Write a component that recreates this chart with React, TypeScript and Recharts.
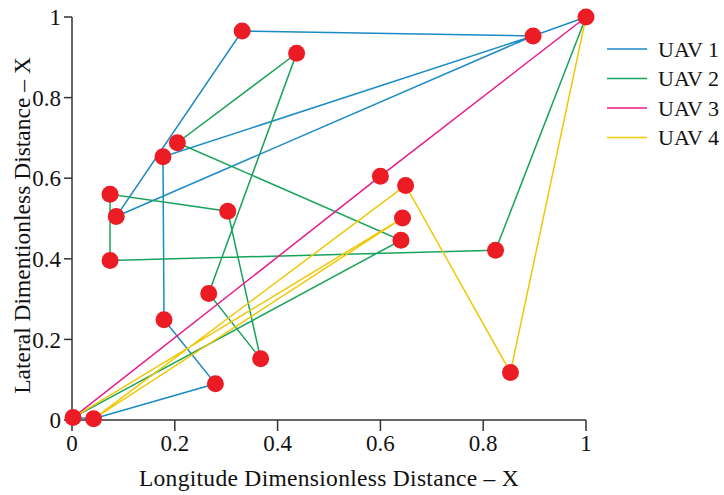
import React from 'react';
import { ComposedChart, Line, Scatter, XAxis, YAxis } from 'recharts';

// customer / depot locations (dimensionless)
const nodeX = [0.002, 0.042, 0.279, 0.179, 0.177, 0.897, 0.086, 0.331, 1.0, 0.64, 0.205, 0.437, 0.266, 0.367, 0.303, 0.074, 0.074, 0.824, 0.6, 0.643, 0.649, 0.853];
const nodeY = [0.006, 0.003, 0.09, 0.249, 0.653, 0.953, 0.505, 0.965, 1.0, 0.446, 0.688, 0.91, 0.314, 0.152, 0.518, 0.56, 0.396, 0.421, 0.605, 0.501, 0.582, 0.118];

// visiting order of each UAV (indices into the node lists)
const uav1Route = [0, 1, 2, 3, 4, 5, 6, 7, 5, 8];
const uav2Route = [0, 9, 10, 11, 12, 13, 14, 15, 16, 17, 8];
const uav3Route = [0, 18, 8];
const uav4Route = [0, 19, 1, 20, 21, 8];

const uavNames = ['UAV 1', 'UAV 2', 'UAV 3', 'UAV 4'];
const uavColors = ['#1a8bc4', '#17a35b', '#e8198b', '#f0c808'];

const axisTicks = [0, 0.2, 0.4, 0.6, 0.8, 1];
const tickLabels = ['0', '0.2', '0.4', '0.6', '0.8', '1'];

const nodes = nodeX.map((x, i) => ({ x, y: nodeY[i] }));
const routes = [uav1Route, uav2Route, uav3Route, uav4Route].map((r) => r.map((i) => nodes[i]));

const font = '"Liberation Serif", "DejaVu Serif", serif';
const fmt = (v: number) => tickLabels[axisTicks.indexOf(v)] ?? String(v);

const Dot = (props: any) => {
  const { cx, cy } = props;
  return <circle cx={cx} cy={cy} r={8.5} fill="#ec1c24" />;
};

const App: React.FC = () => {
  return (
    <div style={{ position: 'absolute', left: 0, top: 0, width: 724, height: 495, background: '#fff', fontFamily: font }}>
      <ComposedChart width={724} height={495} margin={{ top: 17, right: 138, bottom: 0, left: 0 }}>
        <XAxis
          type="number"
          dataKey="x"
          domain={[0, 1]}
          ticks={axisTicks}
          tickFormatter={fmt}
          height={75}
          tickSize={11}
          tickMargin={4}
          axisLine={{ stroke: '#333', strokeWidth: 1.5 }}
          tickLine={{ stroke: '#333', strokeWidth: 1.5 }}
          tick={{ fill: '#111', fontSize: 23, fontFamily: font }}
          label={{ value: 'Longitude Dimensionless Distance – X', position: 'insideBottom', offset: 9, fill: '#111', fontSize: 23.5, letterSpacing: 0.3, fontFamily: font }}
        />
        <YAxis
          type="number"
          dataKey="y"
          domain={[0, 1]}
          ticks={axisTicks}
          tickFormatter={fmt}
          width={72}
          tickSize={8}
          tickMargin={3}
          axisLine={{ stroke: '#333', strokeWidth: 1.5 }}
          tickLine={{ stroke: '#333', strokeWidth: 1.5 }}
          tick={{ fill: '#111', fontSize: 23, fontFamily: font }}
          label={{ value: 'Lateral Dimentionless Distance – X', angle: -90, position: 'center', dx: -14, dy: 7, fill: '#111', fontSize: 23.5, fontFamily: font }}
        />
        {routes.map((r, i) => (
          <Line
            key={uavNames[i]}
            name={uavNames[i]}
            data={r}
            dataKey="y"
            type="linear"
            stroke={uavColors[i]}
            strokeWidth={1.5}
            dot={false}
            activeDot={false}
            isAnimationActive={false}
          />
        ))}
        <Scatter data={nodes} dataKey="y" shape={<Dot />} isAnimationActive={false} />
      </ComposedChart>
      <svg width={724} height={495} style={{ position: 'absolute', left: 0, top: 0, pointerEvents: 'none' }}>
        {uavNames.map((n, i) => {
          const cy = 49 + i * 29.5;
          return (
            <g key={n}>
              <line x1={607} x2={647} y1={cy} y2={cy} stroke={uavColors[i]} strokeWidth={1.5} />
              <text x={658} y={cy + 7.5} fontSize={22} fontFamily={font} fill="#111">{n}</text>
            </g>
          );
        })}
      </svg>
    </div>
  );
};

export default App;
